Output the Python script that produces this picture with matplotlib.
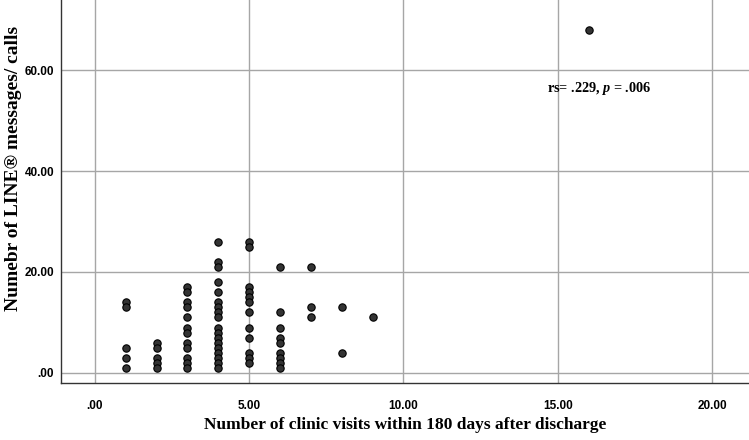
import matplotlib
matplotlib.use("Agg")
import matplotlib.pyplot as plt

plt.rcParams["mathtext.fontset"] = "custom"
plt.rcParams["mathtext.rm"] = "Liberation Serif:bold"
plt.rcParams["mathtext.it"] = "Liberation Serif:italic:bold"
plt.rcParams["mathtext.bf"] = "Liberation Serif:bold"

# clinic visits (x) and LINE messages/calls (y), read column by column
visits_1 = [14, 13, 5, 3, 1]
visits_2 = [6, 5, 3, 2, 1]
visits_3 = [17, 16, 14, 13, 11, 9, 8, 6, 5, 3, 2, 1]
visits_4 = [26, 22, 21, 18, 16, 14, 13, 12, 11, 9, 8, 7, 6, 5, 4, 3, 2, 1]
visits_5 = [26, 25, 17, 16, 15, 14, 12, 9, 7, 4, 3, 2]
visits_6 = [21, 12, 9, 7, 6, 4, 3, 2, 1]
visits_7 = [21, 13, 11]
visits_8 = [13, 4]
visits_9 = [11]
visits_16 = [68]

columns = {
    1: visits_1, 2: visits_2, 3: visits_3, 4: visits_4, 5: visits_5,
    6: visits_6, 7: visits_7, 8: visits_8, 9: visits_9, 16: visits_16,
}

x_ticks = [0, 5, 10, 15, 20]
y_ticks = [0, 20, 40, 60]


def fmt(v):
    s = f"{v:.2f}"
    return s[1:] if v == 0 else s


xs, ys = [], []
for visit, msgs in columns.items():
    xs += [visit] * len(msgs)
    ys += msgs

fig = plt.figure(figsize=(7.49, 4.40), dpi=100)
ax = fig.add_axes([0.0814, 0.1295, 0.9186, 0.8705])

ax.set_xlim(-1.1, 21.2)
ax.set_ylim(-2.0, 73.9)
ax.set_xticks(x_ticks)
ax.set_yticks(y_ticks)
ax.set_xticklabels([fmt(v) for v in x_ticks])
ax.set_yticklabels([fmt(v) for v in y_ticks])
ax.grid(True, color="#a6a6a6", linewidth=1.0)
ax.set_axisbelow(True)
ax.tick_params(length=0, labelsize=8.5)
ax.tick_params(axis="x", pad=12)
ax.tick_params(axis="y", pad=5)
for lbl in ax.get_xticklabels() + ax.get_yticklabels():
    lbl.set_fontfamily("Liberation Sans")
    lbl.set_fontweight("bold")

for side in ("top", "right"):
    ax.spines[side].set_visible(False)
for side in ("left", "bottom"):
    ax.spines[side].set_color("#333333")
    ax.spines[side].set_linewidth(1.0)

ax.scatter(xs, ys, s=28, color="#333333", edgecolor="black", linewidth=0.8, zorder=3)

ax.text(16.34, 56.4, "rs= .229, $p$ = .006", ha="center", va="center",
        family="Liberation Serif", fontweight="bold", fontsize=10.3)

ax.set_xlabel("Number of clinic visits within 180 days after discharge",
              family="Liberation Serif", fontweight="bold", fontsize=12.5, labelpad=4)
ax.set_ylabel("Numebr of LINE\u00ae messages/ calls",
              family="Liberation Serif", fontweight="bold", fontsize=14)
# label sits a little above the axes centre in the original
ax.yaxis.set_label_coords(-0.056, 0.56)

fig.savefig("out.png", dpi=100)
